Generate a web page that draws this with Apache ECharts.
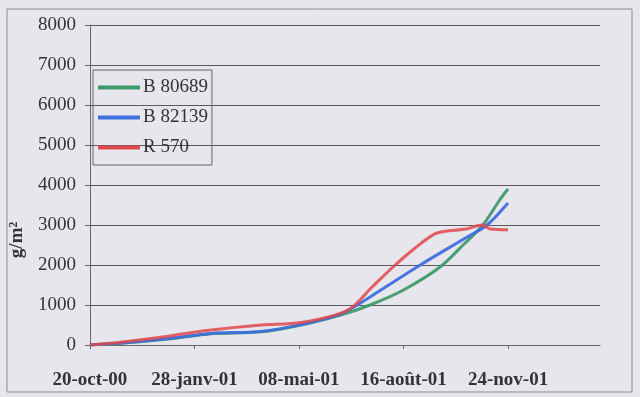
<!DOCTYPE html>
<html><head><meta charset="utf-8">
<script src="https://cdn.jsdelivr.net/npm/echarts@6/dist/echarts.min.js"></script>
<style>html,body{margin:0;padding:0;background:#ffffff;}#c{width:640px;height:397px;}</style>
</head><body><div id="c"></div>
<script>
// x positions are days since 20-oct-00
const tickLabels = ['20-oct-00','28-janv-01','08-mai-01','16-août-01','24-nov-01'];
const seriesNames = ['B 80689','B 82139','R 570'];
const greenDays = [0, 33, 75, 116, 164, 202, 240, 268, 300, 335, 357, 376, 392, 400];
const greenVals = [0, 50, 150, 280, 330, 500, 750, 1000, 1375, 1950, 2500, 3000, 3625, 3900];
const blueDays = [0, 33, 75, 116, 164, 202, 240, 268, 316, 361, 380, 400];
const blueVals = [0, 55, 160, 290, 340, 510, 780, 1200, 2000, 2700, 3000, 3550];
const redDays = [0, 33, 75, 116, 164, 202, 247, 270, 290, 310, 332, 360, 375, 383, 400];
const redVals = [0, 80, 220, 375, 500, 560, 875, 1450, 1950, 2400, 2800, 2900, 3000, 2900, 2880];

const zip = (a, b) => a.map((d, i) => [d, b[i]]);
const colors = ['#3f9a6a', '#3f6fe0', '#e0474a'];
const chart = echarts.init(document.getElementById('c'));
const serif = '"Liberation Serif", "DejaVu Serif", serif';
chart.setOption({
  backgroundColor: '#e6e6ec',
  animation: false,
  graphic: [{type: 'rect', shape: {x: 7, y: 9, width: 625, height: 383}, style: {fill: 'none', stroke: '#8a8a92', lineWidth: 1}}],
  grid: {left: 88, right: 40, top: 25, bottom: 52},
  legend: {
    left: 93, top: 70, orient: 'vertical', itemGap: 11,
    itemWidth: 42, itemHeight: 4,
    backgroundColor: 'transparent', borderColor: '#666', borderWidth: 1,
    padding: [8, 4, 8, 5],
    textStyle: {fontFamily: serif, fontSize: 19, color: '#333', padding: [0, 0, 0, -2]},
    icon: 'rect',
    data: seriesNames
  },
  xAxis: {
    type: 'value', min: 0, max: 488, interval: 100,
    axisLine: {lineStyle: {color: '#666'}},
    axisTick: {show: true, length: 4, lineStyle: {color: '#666'}},
    splitLine: {show: false},
    axisLabel: {
      showMaxLabel: false, margin: 26,
      fontFamily: serif, fontSize: 19, fontWeight: 'bold', color: '#333',
      formatter: v => tickLabels[Math.round(v / 100)] || ''
    }
  },
  yAxis: {
    type: 'value', min: 0, max: 8000, interval: 1000,
    name: 'g/m²', nameLocation: 'middle', nameGap: 60,
    nameTextStyle: {fontFamily: serif, fontSize: 19, fontWeight: 'bold', color: '#333', padding: [0, 110, 0, 0]},
    axisLine: {show: true, lineStyle: {color: '#666'}},
    axisTick: {show: true, length: 5, lineStyle: {color: '#666'}},
    splitLine: {lineStyle: {color: '#5a5a60', width: 1}},
    axisLabel: {fontFamily: serif, fontSize: 19, color: '#333', margin: 14, formatter: v => String(v)}
  },
  series: [
    {name: seriesNames[0], type: 'line', data: zip(greenDays, greenVals), smooth: 0.3, showSymbol: false, color: colors[0], lineStyle: {width: 3, opacity: 0.95}},
    {name: seriesNames[1], type: 'line', data: zip(blueDays, blueVals), smooth: 0.3, showSymbol: false, color: colors[1], lineStyle: {width: 3, opacity: 0.95}},
    {name: seriesNames[2], type: 'line', data: zip(redDays, redVals), smooth: 0.3, showSymbol: false, color: colors[2], lineStyle: {width: 3, opacity: 0.85}}
  ]
});
</script></body></html>
